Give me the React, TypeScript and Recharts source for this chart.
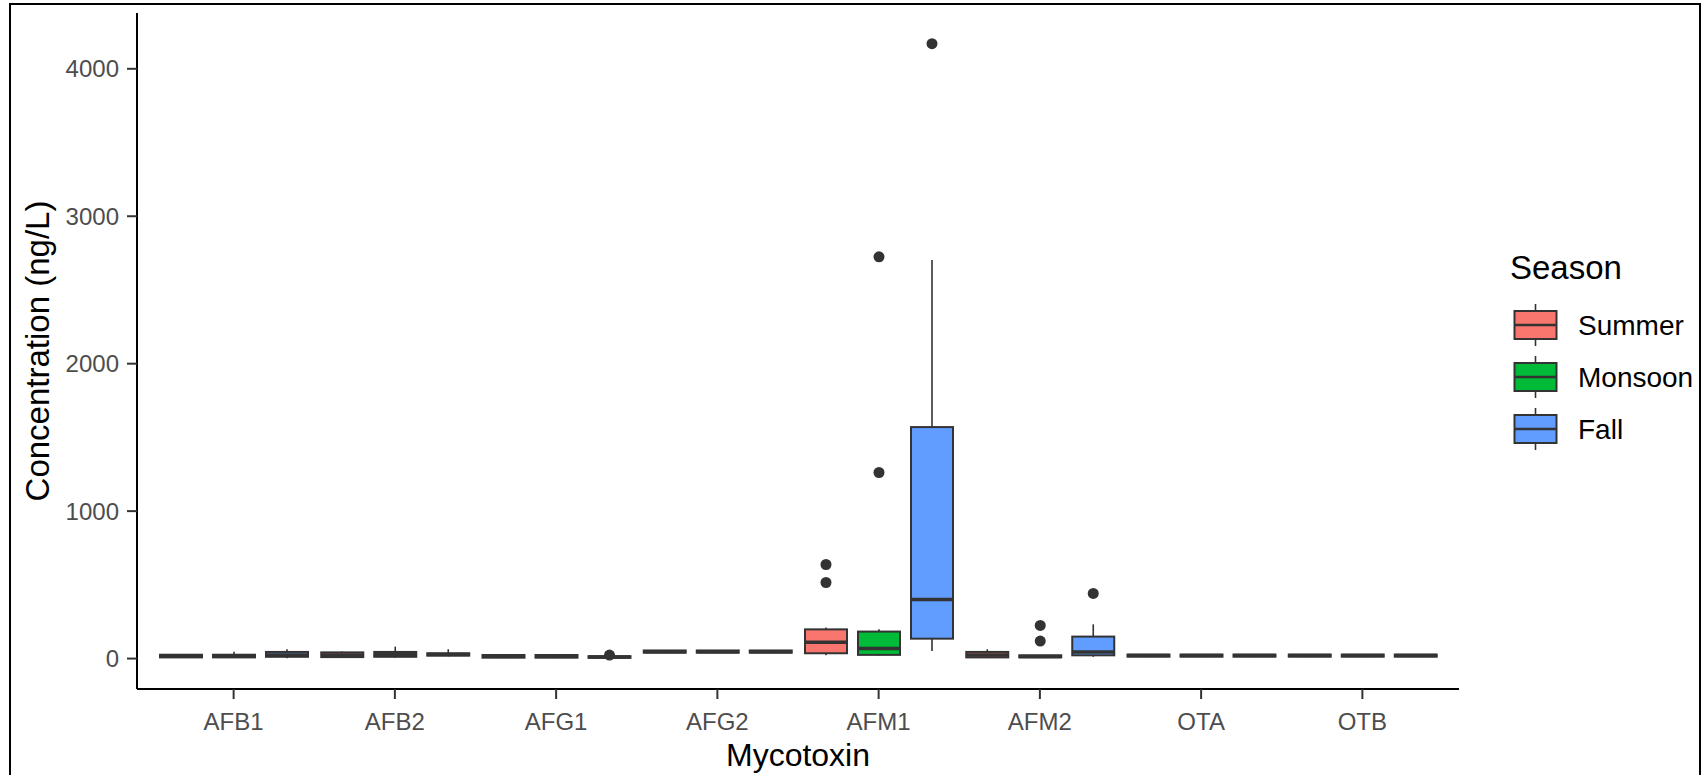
import React from 'react';
import { ComposedChart, Bar, XAxis, YAxis, Legend } from 'recharts';

const CATEGORIES = ['AFB1', 'AFB2', 'AFG1', 'AFG2', 'AFM1', 'AFM2', 'OTA', 'OTB'];
const SEASONS = ['Summer', 'Monsoon', 'Fall'];
const SEASON_COLORS = ['#F8766D', '#00BA38', '#619CFF'];
const Y_TICKS = [0, 1000, 2000, 3000, 4000];

// [lower whisker, Q1, median, Q3, upper whisker] per mycotoxin
const SUMMER_STATS = [
  [4, 8, 16, 26, 30],
  [5, 10, 25, 42, 48],
  [3, 6, 15, 24, 28],
  [36, 40, 47, 55, 58],
  [22, 36, 110, 198, 210],
  [3, 8, 25, 45, 63],
  [10, 13, 20, 27, 29],
  [10, 13, 20, 27, 29],
];
const SUMMER_OUTLIERS = [[], [], [], [], [516, 638], [], [], []];

const MONSOON_STATS = [
  [4, 8, 16, 26, 47],
  [5, 12, 28, 45, 81],
  [3, 6, 15, 24, 28],
  [36, 40, 47, 55, 58],
  [20, 25, 68, 183, 198],
  [3, 8, 14, 22, 26],
  [10, 13, 20, 27, 29],
  [10, 13, 20, 27, 29],
];
const MONSOON_OUTLIERS = [[], [], [], [], [1262, 2725], [119, 225], [], []];

const FALL_STATS = [
  [2, 12, 25, 45, 63],
  [15, 20, 28, 36, 63],
  [2, 5, 10, 16, 18],
  [36, 40, 47, 55, 58],
  [52, 135, 401, 1570, 2704],
  [12, 22, 45, 149, 232],
  [10, 13, 20, 27, 29],
  [10, 13, 20, 27, 29],
];
const FALL_OUTLIERS = [[], [], [24], [], [4170], [442], [], []];

const ALL_STATS = [SUMMER_STATS, MONSOON_STATS, FALL_STATS];
const ALL_OUTLIERS = [SUMMER_OUTLIERS, MONSOON_OUTLIERS, FALL_OUTLIERS];

// ggplot-like 5% expansion of the data range
const allValues = [...ALL_STATS.flat(2), ...ALL_OUTLIERS.flat(2)];
const DATA_MIN = Math.min(...allValues);
const DATA_MAX = Math.max(...allValues);
const PAD = (DATA_MAX - DATA_MIN) * 0.05;
const Y_MIN = DATA_MIN - PAD;
const Y_MAX = DATA_MAX + PAD;

const data = CATEGORIES.map((name, i) => {
  const row: any = {
    name,
    stats: ALL_STATS.map((s) => s[i]),
    outliers: ALL_OUTLIERS.map((o) => o[i]),
  };
  SEASONS.forEach((s) => {
    row[s] = [Y_MIN, Y_MAX];
  });
  return row;
});

const FONT = '"Liberation Sans", Arial, sans-serif';
const INK = '#333333';

function makeBoxShape(si: number) {
  return (props: any) => {
    const { x, y, width, height, payload } = props;
    if (!payload) return <g />;
    const toPx = (v: number) => y + (height * (Y_MAX - v)) / (Y_MAX - Y_MIN);
    const [lo, q1, med, q3, hi] = payload.stats[si];
    const outs: number[] = payload.outliers[si];
    const cx = x + width / 2;
    return (
      <g>
        <line x1={cx} x2={cx} y1={toPx(hi)} y2={toPx(q3)} stroke={INK} strokeWidth={1.6} />
        <line x1={cx} x2={cx} y1={toPx(q1)} y2={toPx(lo)} stroke={INK} strokeWidth={1.6} />
        <rect
          x={x}
          y={toPx(q3)}
          width={width}
          height={Math.max(0, toPx(q1) - toPx(q3))}
          fill={SEASON_COLORS[si]}
          stroke={INK}
          strokeWidth={2}
        />
        <line x1={x} x2={x + width} y1={toPx(med)} y2={toPx(med)} stroke={INK} strokeWidth={3.5} />
        {outs.map((o, k) => (
          <circle key={k} cx={cx} cy={toPx(o)} r={5.5} fill={INK} />
        ))}
      </g>
    );
  };
}

const renderLegend = () => (
  <svg width={213} height={230} style={{ display: 'block' }}>
    <text x={20} y={39} fontFamily={FONT} fontSize={33} fill="#000">
      Season
    </text>
    {SEASONS.map((s, i) => {
      const cy = 85 + i * 52;
      const x0 = 24.5;
      const w = 42;
      return (
        <g key={s}>
          <line x1={x0 + w / 2} x2={x0 + w / 2} y1={cy - 21} y2={cy + 21} stroke={INK} strokeWidth={1.6} />
          <rect x={x0} y={cy - 14} width={w} height={28} fill={SEASON_COLORS[i]} stroke={INK} strokeWidth={2} />
          <line x1={x0} x2={x0 + w} y1={cy} y2={cy} stroke={INK} strokeWidth={2.5} />
          <text x={88} y={cy + 9.5} fontFamily={FONT} fontSize={28} fill="#000">
            {s}
          </text>
        </g>
      );
    })}
  </svg>
);

const renderXTitle = (props: any) => {
  const vb = props.viewBox || {};
  return (
    <text x={vb.x + vb.width / 2} y={vb.y + 77} textAnchor="middle" fontFamily={FONT} fontSize={32} fill="#000">
      Mycotoxin
    </text>
  );
};

const renderYTitle = (props: any) => {
  const vb = props.viewBox || {};
  const x = vb.x + 49;
  const y = vb.y + vb.height / 2;
  return (
    <text x={x} y={y} transform={`rotate(-90, ${x}, ${y})`} textAnchor="middle" fontFamily={FONT} fontSize={33} fill="#000">
      Concentration (ng/L)
    </text>
  );
};

export default function App() {
  return (
    <div style={{ position: 'absolute', left: 0, top: 0, width: 1703, height: 775, background: '#fff', overflow: 'hidden' }}>
      <div
        style={{
          position: 'absolute',
          left: 9,
          top: 3,
          width: 1692,
          height: 800,
          border: '2.5px solid #000',
          boxSizing: 'border-box',
        }}
      />
      <ComposedChart
        width={1703}
        height={775}
        data={data}
        margin={{ top: 13, right: 244, bottom: 0, left: 0 }}
        barSize={42}
        barGap={11}
      >
        <XAxis
          dataKey="name"
          type="category"
          interval={0}
          padding={{ left: 16, right: 16 }}
          height={86}
          tickSize={10}
          tickMargin={14}
          axisLine={{ stroke: '#000', strokeWidth: 2 }}
          tickLine={{ stroke: INK, strokeWidth: 2 }}
          tick={{ fontSize: 24, fill: '#4D4D4D', fontFamily: FONT }}
          label={renderXTitle}
        />
        <YAxis
          type="number"
          domain={[Y_MIN, Y_MAX]}
          allowDataOverflow
          ticks={Y_TICKS}
          width={137}
          tickSize={10}
          tickMargin={8}
          axisLine={{ stroke: '#000', strokeWidth: 2 }}
          tickLine={{ stroke: INK, strokeWidth: 2 }}
          tick={{ fontSize: 24, fill: '#4D4D4D', fontFamily: FONT }}
          label={renderYTitle}
        />
        {SEASONS.map((s, i) => (
          <Bar key={s} name={s} dataKey={s} isAnimationActive={false} shape={makeBoxShape(i)} />
        ))}
        <Legend
          layout="horizontal"
          verticalAlign="middle"
          align="center"
          content={renderLegend}
          wrapperStyle={{ position: 'absolute', left: 1490, top: 240, width: 213, height: 230 }}
        />
      </ComposedChart>
    </div>
  );
}
